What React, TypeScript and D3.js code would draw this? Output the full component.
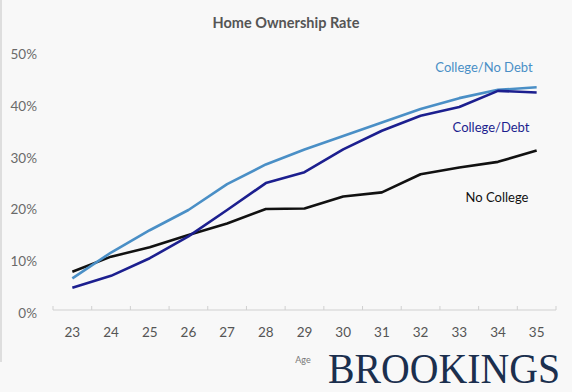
import React from 'react';
import * as d3 from 'd3';

// Ages on the x axis
const ages: string[] = ['23', '24', '25', '26', '27', '28', '29', '30', '31', '32', '33', '34', '35'];

// Home ownership rate (%) per series
const collegeNoDebt: number[] = [6.1, 11.1, 15.4, 19.3, 24.3, 28.1, 31.0, 33.6, 36.2, 38.8, 40.9, 42.5, 43.0];
const collegeDebt: number[] = [4.3, 6.6, 10.0, 14.2, 19.3, 24.5, 26.6, 31.0, 34.6, 37.5, 39.2, 42.3, 42.0];
const noCollege: number[] = [7.4, 10.3, 12.1, 14.5, 16.7, 19.5, 19.6, 21.9, 22.7, 26.2, 27.5, 28.6, 30.8];

const yTicks: number[] = [0, 10, 20, 30, 40, 50];

const W = 572;
const H = 392;
const FONT = 'Lato, "Open Sans", sans-serif';

const App: React.FC = () => {
  const x = d3.scaleBand<string>().domain(ages).range([53, 556]).padding(0);
  const y = d3.scaleLinear().domain([0, 50]).range([310, 51]);
  const cx = (a: string) => (x(a) ?? 0) + x.bandwidth() / 2;

  const line = d3
    .line<number>()
    .x((_, i) => cx(ages[i]))
    .y((d) => y(d));

  const series = [
    { name: 'No College', values: noCollege, color: '#111111' },
    { name: 'College/No Debt', values: collegeNoDebt, color: '#4a8fc6' },
    { name: 'College/Debt', values: collegeDebt, color: '#1c1f8f' },
  ];

  const tickXs = ages.map((a) => x(a) ?? 0).concat([556]);

  return (
    <svg width={W} height={H} style={{ position: 'absolute', left: 0, top: 0, background: '#f8f8f8' }}>
      <rect x={0} y={0} width={W} height={H} fill="#f8f8f8" />
      <line x1={1} x2={1} y1={0} y2={362} stroke="#d6d6d6" strokeWidth={1.5} />

      <text x={286} y={28} textAnchor="middle" fontFamily={FONT} fontWeight={700} fontSize={14.5} fill="#555">
        Home Ownership Rate
      </text>

      {/* y axis labels */}
      {yTicks.map((t) => (
        <text key={t} x={37} y={y(t) + 8} textAnchor="end" fontFamily={FONT} fontSize={13.5} fill="#6a6a6a">
          {t}%
        </text>
      ))}

      {/* x axis */}
      <line x1={53} x2={556} y1={y(0)} y2={y(0)} stroke="#d0d0d0" strokeWidth={1} />
      {tickXs.map((tx, i) => (
        <line key={i} x1={tx} x2={tx} y1={y(0)} y2={y(0) - 4} stroke="#d0d0d0" strokeWidth={1} />
      ))}
      {ages.map((a) => (
        <text key={a} x={cx(a)} y={337} textAnchor="middle" fontFamily={FONT} fontSize={13.5} fill="#555">
          {a}
        </text>
      ))}
      <text x={303} y={363} textAnchor="middle" fontFamily={FONT} fontSize={9} fill="#777">
        Age
      </text>

      {series.map((s) => (
        <path key={s.name} d={line(s.values) ?? ''} fill="none" stroke={s.color} strokeWidth={2.6} strokeLinejoin="round" />
      ))}

      <text x={484} y={72} textAnchor="middle" fontFamily={FONT} fontSize={13} fill="#4a8fc6">
        College/No Debt
      </text>
      <text x={491} y={132} textAnchor="middle" fontFamily={FONT} fontSize={13} fill="#1c1f8f">
        College/Debt
      </text>
      <text x={497} y={202} textAnchor="middle" fontFamily={FONT} fontSize={13} fill="#111">
        No College
      </text>

      <text
        x={328}
        y={383}
        fontFamily='"Liberation Serif", "DejaVu Serif", serif'
        fontSize={42}
        fill="#1b2f4e"
        textLength={232}
        lengthAdjust="spacingAndGlyphs"
      >
        BROOKINGS
      </text>
    </svg>
  );
};

export default App;
